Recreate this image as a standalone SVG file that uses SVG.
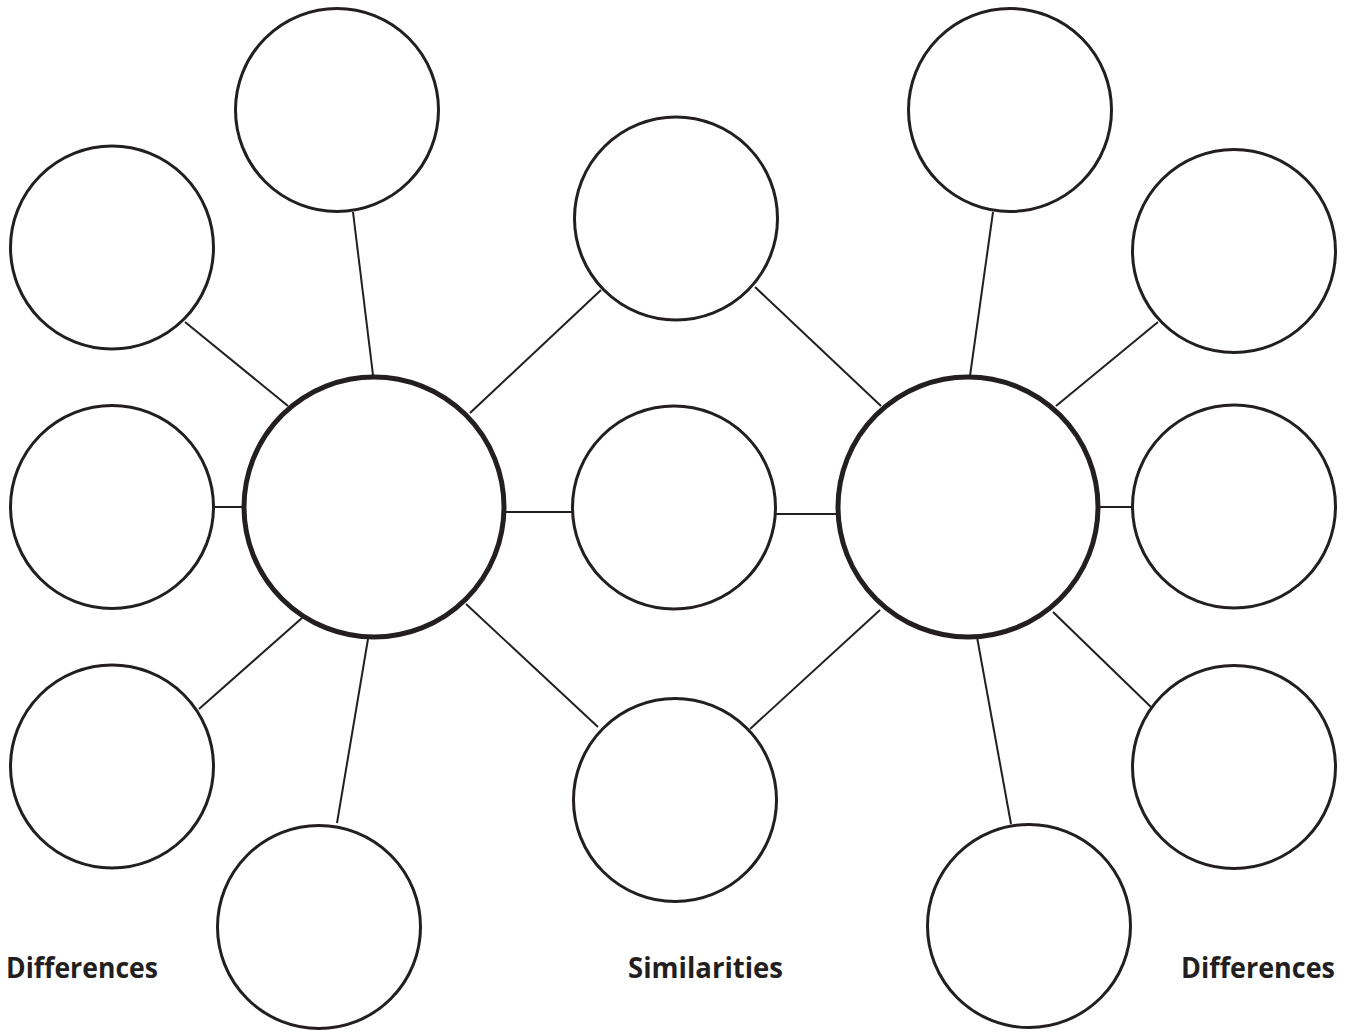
<svg xmlns="http://www.w3.org/2000/svg" width="1349" height="1034" viewBox="0 0 1349 1034">
<style>
.small{fill:#fff;stroke:#231f20;stroke-width:3}
.big{fill:#fff;stroke:#231f20;stroke-width:5}
.conn line{stroke:#231f20;stroke-width:2}
.lbl{font-family:"Open Sans","Noto Sans",sans-serif;font-weight:700;font-size:29px;fill:#231f20}
</style>
<rect width="1349" height="1034" fill="#fff"/>
<g id="connectors" class="conn">
<line x1="353" y1="212" x2="373" y2="375"/>
<line x1="185" y1="322" x2="288" y2="406"/>
<line x1="215" y1="507" x2="243" y2="507"/>
<line x1="199" y1="709" x2="302" y2="618"/>
<line x1="368" y1="639" x2="337" y2="823"/>
<line x1="470" y1="413" x2="601" y2="290"/>
<line x1="506" y1="512" x2="572" y2="512"/>
<line x1="466" y1="604" x2="598" y2="727"/>
<line x1="755" y1="287" x2="881" y2="406"/>
<line x1="776" y1="514" x2="839" y2="514"/>
<line x1="750" y1="729" x2="880" y2="610"/>
<line x1="993" y1="212" x2="970" y2="376"/>
<line x1="1158" y1="322" x2="1056" y2="406"/>
<line x1="1099" y1="507" x2="1133" y2="507"/>
<line x1="1053" y1="612" x2="1151" y2="707"/>
<line x1="977" y1="637" x2="1011" y2="824"/>
</g>
<g id="left-center"><circle class="big" cx="374" cy="507" r="130"/></g>
<g id="right-center"><circle class="big" cx="968" cy="507" r="130"/></g>
<g id="left-diff-1"><circle class="small" cx="337" cy="110" r="101.5"/></g>
<g id="left-diff-2"><circle class="small" cx="112" cy="247.5" r="101.5"/></g>
<g id="left-diff-3"><circle class="small" cx="112" cy="507" r="101.5"/></g>
<g id="left-diff-4"><circle class="small" cx="112" cy="766.5" r="101.5"/></g>
<g id="left-diff-5"><circle class="small" cx="319" cy="927" r="101.5"/></g>
<g id="sim-1"><circle class="small" cx="676" cy="218.5" r="101.5"/></g>
<g id="sim-2"><circle class="small" cx="674" cy="507.5" r="101.5"/></g>
<g id="sim-3"><circle class="small" cx="675" cy="800" r="101.5"/></g>
<g id="right-diff-1"><circle class="small" cx="1010" cy="110" r="101.5"/></g>
<g id="right-diff-2"><circle class="small" cx="1234" cy="251" r="101.5"/></g>
<g id="right-diff-3"><circle class="small" cx="1234" cy="506.5" r="101.5"/></g>
<g id="right-diff-4"><circle class="small" cx="1234" cy="767" r="101.5"/></g>
<g id="right-diff-5"><circle class="small" cx="1029" cy="926" r="101.5"/></g>
<g id="labels">
<text class="lbl" x="6" y="978" textLength="152" lengthAdjust="spacingAndGlyphs">Differences</text>
<text class="lbl" x="628" y="978" textLength="155" lengthAdjust="spacingAndGlyphs">Similarities</text>
<text class="lbl" x="1181" y="978" textLength="154" lengthAdjust="spacingAndGlyphs">Differences</text>
</g>
</svg>
